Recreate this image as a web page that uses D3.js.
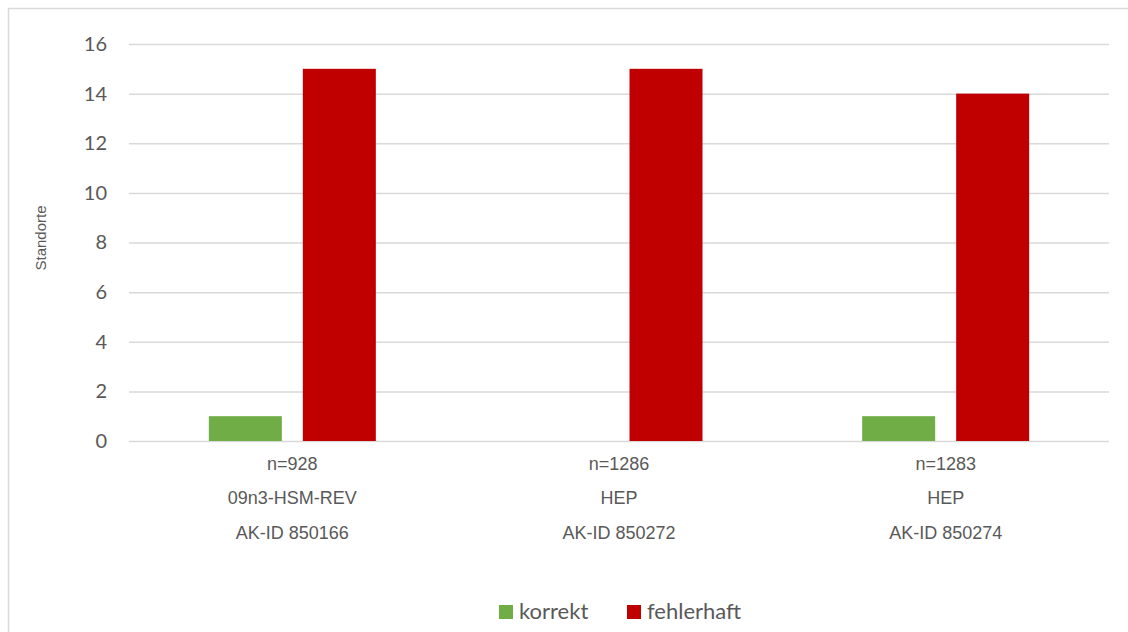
<!DOCTYPE html>
<html>
<head>
<meta charset="utf-8">
<script src="https://cdn.jsdelivr.net/npm/d3@7"></script>
<style>
  html, body { margin: 0; padding: 0; background: #fff; }
  svg { display: block; }
</style>
</head>
<body>
<svg id="chart" width="1128" height="632"></svg>
<script>
// Data
const categories = ["850166", "850272", "850274"];
const sampleSizes = ["n=928", "n=1286", "n=1283"];
const productNames = ["09n3-HSM-REV", "HEP", "HEP"];
const akIds = ["AK-ID 850166", "AK-ID 850272", "AK-ID 850274"];
const seriesNames = ["korrekt", "fehlerhaft"];
const korrekt = [1, 0, 1];
const fehlerhaft = [15, 15, 14];
const yTicks = [0, 2, 4, 6, 8, 10, 12, 14, 16];

const colors = { korrekt: "#70AD47", fehlerhaft: "#C00000" };
const seriesValues = { korrekt, fehlerhaft };

const svg = d3.select("#chart");
const W = 1128, H = 632;

// Outer chart frame
svg.append("rect")
  .attr("x", 8.5).attr("y", 8.5)
  .attr("width", W + 10).attr("height", H + 10)
  .attr("fill", "#fff").attr("stroke", "#d9d9d9").attr("stroke-width", 1.5);

const plot = { left: 129, right: 1109, top: 44, bottom: 441 };

const x = d3.scaleBand()
  .domain(categories)
  .range([plot.left, plot.right])
  .paddingInner(0).paddingOuter(0);

const y = d3.scaleLinear()
  .domain([0, 16])
  .range([plot.bottom, plot.top]);

// Bar geometry inside each category band
const barW = 73, barGap = 21;
const xInner = d3.scaleOrdinal()
  .domain(seriesNames)
  .range([-(barW + barGap / 2), barGap / 2]);

// Gridlines
const yAxis = d3.axisLeft(y).tickValues(yTicks).tickSize(-(plot.right - plot.left)).tickPadding(22);
const gy = svg.append("g")
  .attr("transform", `translate(${plot.left},0)`)
  .call(yAxis);
gy.select(".domain").remove();
gy.selectAll(".tick line").attr("stroke", "#d9d9d9").attr("stroke-width", 1.5);
gy.selectAll(".tick text")
  .attr("fill", "#595959")
  .style("font-family", "Lato, 'Open Sans', sans-serif")
  .style("font-size", "20px");

// Bars
seriesNames.forEach(s => {
  svg.append("g").selectAll("rect")
    .data(categories.map((c, i) => ({ c, v: seriesValues[s][i] })).filter(d => d.v > 0))
    .join("rect")
    .attr("x", d => x(d.c) + x.bandwidth() / 2 + xInner(s))
    .attr("y", d => y(d.v))
    .attr("width", barW)
    .attr("height", d => y(0) - y(d.v))
    .attr("fill", colors[s]);
});

// Category labels (three lines)
const labelLines = [sampleSizes, productNames, akIds];
const lineY = [470, 504, 539];
labelLines.forEach((arr, li) => {
  svg.append("g").selectAll("text")
    .data(categories)
    .join("text")
    .attr("x", d => x(d) + x.bandwidth() / 2)
    .attr("y", lineY[li])
    .attr("text-anchor", "middle")
    .attr("fill", "#595959")
    .style("font-family", "'Liberation Sans', Arial, sans-serif")
    .style("font-size", "18px")
    .text((d, i) => arr[i]);
});

// Y axis title
svg.append("text")
  .attr("transform", "translate(46,238) rotate(-90)")
  .attr("text-anchor", "middle")
  .attr("fill", "#595959")
  .style("font-family", "'Liberation Sans', Arial, sans-serif")
  .style("font-size", "15px")
  .text("Standorte");

// Legend
const legendItems = [
  { name: "korrekt", x: 499 },
  { name: "fehlerhaft", x: 627 }
];
const lg = svg.append("g");
legendItems.forEach(it => {
  lg.append("rect")
    .attr("x", it.x).attr("y", 605)
    .attr("width", 14).attr("height", 14)
    .attr("fill", colors[it.name]);
  lg.append("text")
    .attr("x", it.x + 20).attr("y", 619)
    .attr("fill", "#595959")
    .style("font-family", "Lato, 'Open Sans', sans-serif")
    .style("font-size", "22px")
    .text(it.name);
});
</script>
</body>
</html>
